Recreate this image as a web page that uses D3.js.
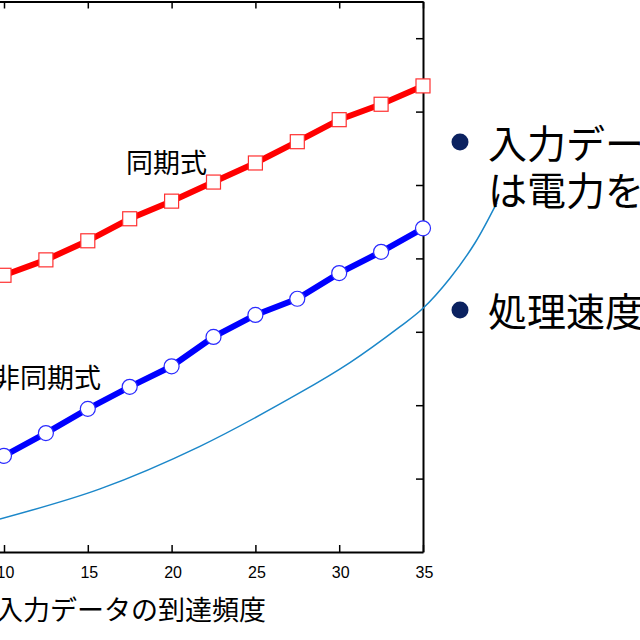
<!DOCTYPE html>
<html>
<head>
<meta charset="utf-8">
<script src="https://cdn.jsdelivr.net/npm/d3@7"></script>
<style>
  html, body { margin: 0; padding: 0; background: #ffffff; }
  svg { display: block; }
</style>
</head>
<body>
<svg id="chart" width="640" height="640"></svg>
<script>
// ---- data ----
const xValues = [10, 12.5, 15, 17.5, 20, 22.5, 25, 27.5, 30, 32.5, 35];
const syncValues = [3.77, 3.98, 4.24, 4.54, 4.78, 5.04, 5.30, 5.59, 5.89, 6.10, 6.35];
const asyncValues = [1.31, 1.62, 1.95, 2.25, 2.53, 2.93, 3.23, 3.45, 3.80, 4.09, 4.41];
const trendX = [9.76, 15.73, 21.69, 27.66, 30.64, 33.63, 35.0, 36.61, 38.10, 39.41];
const trendY = [0.45, 0.86, 1.44, 2.17, 2.58, 3.07, 3.32, 3.73, 4.21, 4.76];
const xTicks = [10, 15, 20, 25, 30, 35];
const yTicks = [1, 2, 3, 4, 5, 6, 7];
const xTitle = "入力データの到達頻度";
const seriesLabels = ["同期式", "非同期式"];
const bulletLines = [["入力デー", "は電力を"], ["処理速度"]];

// ---- layout ----
const svg = d3.select("#chart");
const cjk = "'Noto Sans CJK JP', 'Noto Sans', sans-serif";
const latin = "'Liberation Sans', Arial, Helvetica, sans-serif";

const x = d3.scaleLinear().domain([5, 35]).range([4 - 83.8, 423]);
const y = d3.scaleLinear().domain([0, 7.5]).range([552, 1.5]);

// frame axes
const gBottom = svg.append("g").attr("transform", `translate(0,${y(0)})`)
  .call(d3.axisBottom(x).tickValues(xTicks).tickSizeInner(-7).tickSizeOuter(0).tickPadding(15));
const gTop = svg.append("g").attr("transform", `translate(0,${y(7.5)})`)
  .call(d3.axisTop(x).tickValues(xTicks).tickSizeInner(-7).tickSizeOuter(0).tickFormat(""));
const gRight = svg.append("g").attr("transform", `translate(${x(35)},0)`)
  .call(d3.axisRight(y).tickValues(yTicks).tickSizeInner(-7).tickSizeOuter(0).tickFormat(""));
[gBottom, gTop, gRight].forEach(g => {
  g.select(".domain").attr("stroke", "#000").attr("stroke-width", 2);
  g.selectAll(".tick line").attr("stroke", "#000").attr("stroke-width", 1.5);
});
gBottom.attr("font-size", null).attr("font-family", null);
gBottom.selectAll(".tick text")
  .style("font-family", latin).style("font-size", "16px").attr("fill", "#000")
  .attr("dx", 1);

// trend curve (annotation)
const trend = trendX.map((v, i) => [v, trendY[i]]);
svg.append("path")
  .datum(trend)
  .attr("fill", "none")
  .attr("stroke", "#1b87c9")
  .attr("stroke-width", 1.5)
  .attr("d", d3.line().x(d => x(d[0])).y(d => y(d[1])).curve(d3.curveCatmullRom.alpha(0.5)));

// series
const line = d3.line().x(d => x(d[0])).y(d => y(d[1]));
const sync = xValues.map((v, i) => [v, syncValues[i]]);
const asyn = xValues.map((v, i) => [v, asyncValues[i]]);

svg.append("path").datum(sync)
  .attr("fill", "none").attr("stroke", "#ff0000").attr("stroke-width", 6)
  .attr("d", line);
svg.append("g").selectAll("rect").data(sync).join("rect")
  .attr("x", d => x(d[0]) - 7).attr("y", d => y(d[1]) - 7)
  .attr("width", 14).attr("height", 14)
  .attr("fill", "#fff").attr("stroke", "#ff3030").attr("stroke-width", 1.2);

svg.append("path").datum(asyn)
  .attr("fill", "none").attr("stroke", "#0000ff").attr("stroke-width", 6)
  .attr("d", line);
svg.append("g").selectAll("circle").data(asyn).join("circle")
  .attr("cx", d => x(d[0])).attr("cy", d => y(d[1])).attr("r", 7.5)
  .attr("fill", "#fff").attr("stroke", "#2a2aff").attr("stroke-width", 1.2);

// series labels
svg.append("text").text(seriesLabels[0])
  .attr("x", 126).attr("y", 161)
  .attr("dominant-baseline", "central")
  .style("font-family", cjk).style("font-size", "27px").attr("fill", "#000");
svg.append("text").text(seriesLabels[1])
  .attr("x", -7).attr("y", 376)
  .attr("dominant-baseline", "central")
  .style("font-family", cjk).style("font-size", "27px").attr("fill", "#000");

// x-axis title
svg.append("text").text(xTitle)
  .attr("x", 266).attr("y", 608)
  .attr("text-anchor", "end")
  .attr("dominant-baseline", "central")
  .style("font-family", cjk).style("font-size", "27px").attr("fill", "#000");

// bullets on the right
const bulletY = [141, 309];
const lineGap = 47;
bulletLines.forEach((lines, bi) => {
  svg.append("circle").attr("cx", 460).attr("cy", bulletY[bi] + 1).attr("r", 8.5).attr("fill", "#0b2260");
  lines.forEach((t, li) => {
    svg.append("text").text(t)
      .attr("x", 488).attr("y", bulletY[bi] + li * lineGap)
      .attr("dominant-baseline", "central")
      .style("font-family", cjk).style("font-size", "39px").attr("fill", "#000");
  });
});
</script>
</body>
</html>
